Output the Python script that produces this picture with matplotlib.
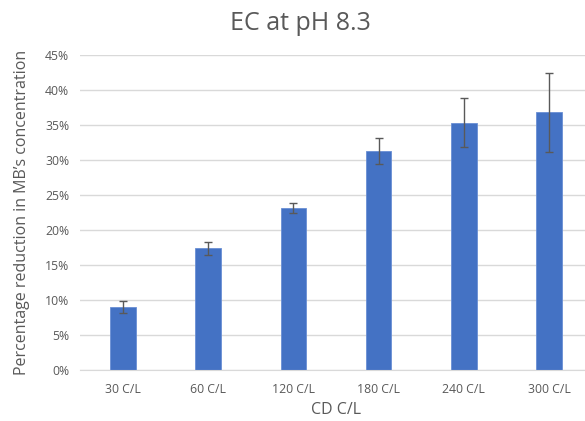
import matplotlib.pyplot as plt
from matplotlib.ticker import PercentFormatter

# Data
categories = ['30 C/L', '60 C/L', '120 C/L', '180 C/L', '240 C/L', '300 C/L']
reduction = [9.0, 17.4, 23.1, 31.3, 35.3, 36.8]
errors = [0.85, 0.9, 0.7, 1.85, 3.5, 5.65]

plt.rcParams['font.family'] = ['Open Sans', 'DejaVu Sans']
grey = '#595959'

fig = plt.figure(figsize=(5.85, 4.21), dpi=100)
ax = fig.add_axes([0.1374, 0.1211, 0.874, 0.7482])

x = range(len(categories))
ax.bar(x, reduction, width=0.3, color='#4472C4', edgecolor='#6a8fd4', linewidth=0.6,
       zorder=2)
ax.errorbar(x, reduction, yerr=errors, fmt='none', ecolor=grey, elinewidth=1,
            capsize=3, capthick=1, zorder=3)

ax.set_xlim(-0.5, 5.5)
ax.set_ylim(0, 45)
ax.set_yticks(range(0, 46, 5))
ax.yaxis.set_major_formatter(PercentFormatter(decimals=0))
ax.set_xticks(list(x))
ax.set_xticklabels(categories)

ax.grid(axis='y', color='#d9d9d9', linewidth=1, zorder=0)
for s in ['top', 'right', 'left']:
    ax.spines[s].set_visible(False)
ax.spines['bottom'].set_color('#d9d9d9')
ax.tick_params(axis='both', length=0, colors=grey, labelsize=8.8)
ax.tick_params(axis='x', pad=9)
ax.tick_params(axis='y', pad=8)

ax.set_xlabel('CD C/L', color=grey, fontsize=11.5, labelpad=5)
ax.set_ylabel('Percentage reduction in MB\u2019s concentration', color=grey,
              fontsize=11.5, labelpad=11)
fig.text(0.513, 0.945, 'EC at pH 8.3', ha='center', va='center', color=grey,
         fontsize=18)

fig.savefig('out.png', dpi=100)
